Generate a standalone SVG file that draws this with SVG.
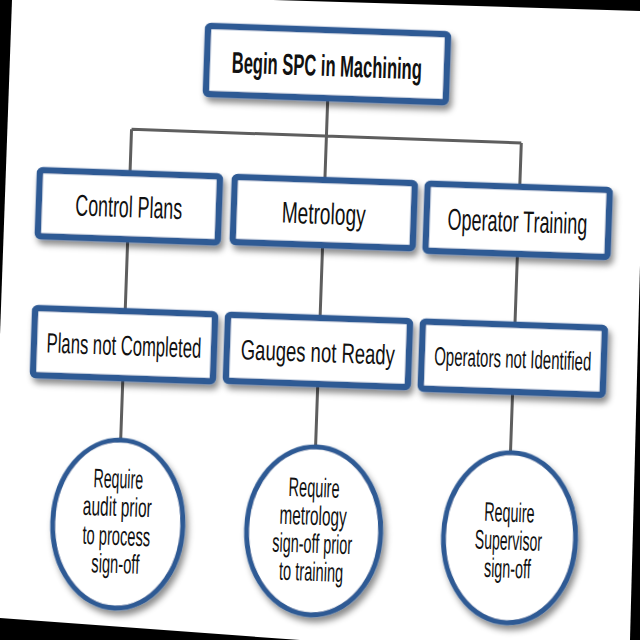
<svg xmlns="http://www.w3.org/2000/svg" width="640" height="640" viewBox="0 0 640 640">
<defs>
<filter id="sh" x="-20%" y="-20%" width="140%" height="150%">
<feDropShadow dx="3" dy="5" stdDeviation="3" flood-color="#000" flood-opacity="0.45"/>
</filter>
<style>
.box{fill:#fff;stroke:#2E5A94;stroke-width:6.5;filter:url(#sh)}
.circ{fill:#fff;stroke:#2E5A94;stroke-width:5;filter:url(#sh)}
.con{stroke:#5e5e5e;stroke-width:3;fill:none}
text{font-family:"Liberation Sans","DejaVu Sans",sans-serif;fill:#111;text-anchor:middle}
.t1{font-size:30px;font-weight:bold}
.t2{font-size:30px}
.t3{font-size:28px}
.t4{font-size:26px}
.t5{font-size:27px}
</style>
</defs>
<rect width="640" height="640" fill="#fff"/>
<g transform="rotate(2 320 320)">
<g id="connectors">
<path class="con" d="M320 98V136M125 136H515M125 136V180M320 136V180M515 136V180"/>
<path class="con" d="M125 246V318M320 246V318M515 246V318"/>
<path class="con" d="M125 385V447M320 385V447M515 385V446"/>
</g>
<g id="n-begin">
<rect class="box" x="198" y="30" width="240" height="68" rx="3"/>
<text class="t1" transform="translate(318 76) scale(0.6 1)" textLength="317" lengthAdjust="spacingAndGlyphs">Begin SPC in Machining</text>
</g>
<g id="n-control">
<rect class="box" x="35" y="180" width="180" height="66" rx="3"/>
<text class="t2" transform="translate(125 224) scale(0.6 1)" textLength="178" lengthAdjust="spacingAndGlyphs">Control Plans</text>
</g>
<g id="n-metrology">
<rect class="box" x="230" y="180" width="180" height="65" rx="3"/>
<text class="t2" transform="translate(320 224) scale(0.6 1)" textLength="140" lengthAdjust="spacingAndGlyphs">Metrology</text>
</g>
<g id="n-operator">
<rect class="box" x="423" y="180" width="182" height="67" rx="3"/>
<text class="t2" transform="translate(514 225) scale(0.6 1)" textLength="233" lengthAdjust="spacingAndGlyphs">Operator Training</text>
</g>
<g id="n-plans">
<rect class="box" x="35" y="318" width="180" height="67" rx="3"/>
<text class="t3" transform="translate(125 362) scale(0.6 1)" textLength="258" lengthAdjust="spacingAndGlyphs">Plans not Completed</text>
</g>
<g id="n-gauges">
<rect class="box" x="228" y="318" width="182" height="66" rx="3"/>
<text class="t3" transform="translate(319 362) scale(0.6 1)" textLength="257" lengthAdjust="spacingAndGlyphs">Gauges not Ready</text>
</g>
<g id="n-operators">
<rect class="box" x="423" y="318" width="182" height="67" rx="3"/>
<text class="t4" transform="translate(514 361) scale(0.6 1)" textLength="262" lengthAdjust="spacingAndGlyphs">Operators not Identified</text>
</g>
<g id="n-audit">
<ellipse class="circ" cx="125" cy="531" rx="65" ry="84"/>
<text class="t5" transform="translate(124 495) scale(0.6 1)" textLength="83" lengthAdjust="spacingAndGlyphs">Require</text>
<text class="t5" transform="translate(124 523) scale(0.6 1)" textLength="115" lengthAdjust="spacingAndGlyphs">audit prior</text>
<text class="t5" transform="translate(124 552) scale(0.6 1)" textLength="113" lengthAdjust="spacingAndGlyphs">to process</text>
<text class="t5" transform="translate(124 580) scale(0.6 1)" textLength="80" lengthAdjust="spacingAndGlyphs">sign-off</text>
</g>
<g id="n-metsign">
<ellipse class="circ" cx="321" cy="531" rx="67" ry="84"/>
<text class="t5" transform="translate(320 497) scale(0.6 1)" textLength="85" lengthAdjust="spacingAndGlyphs">Require</text>
<text class="t5" transform="translate(320 525) scale(0.6 1)" textLength="112" lengthAdjust="spacingAndGlyphs">metrology</text>
<text class="t5" transform="translate(320 553) scale(0.6 1)" textLength="133" lengthAdjust="spacingAndGlyphs">sign-off prior</text>
<text class="t5" transform="translate(320 581) scale(0.6 1)" textLength="107" lengthAdjust="spacingAndGlyphs">to training</text>
</g>
<g id="n-super">
<ellipse class="circ" cx="517" cy="531" rx="66" ry="85"/>
<text class="t5" transform="translate(516 515) scale(0.6 1)" textLength="84" lengthAdjust="spacingAndGlyphs">Require</text>
<text class="t5" transform="translate(516 543) scale(0.6 1)" textLength="112" lengthAdjust="spacingAndGlyphs">Supervisor</text>
<text class="t5" transform="translate(516 571) scale(0.6 1)" textLength="78" lengthAdjust="spacingAndGlyphs">sign-off</text>
</g>
</g>
<g id="frame" fill="#000">
<polygon points="0,0 12,0 0,335"/>
<polygon points="273,0 640,0 640,11"/>
<polygon points="640,265 640,640 630,640"/>
<polygon points="0,618 0,640 300,640"/>
</g>
</svg>
